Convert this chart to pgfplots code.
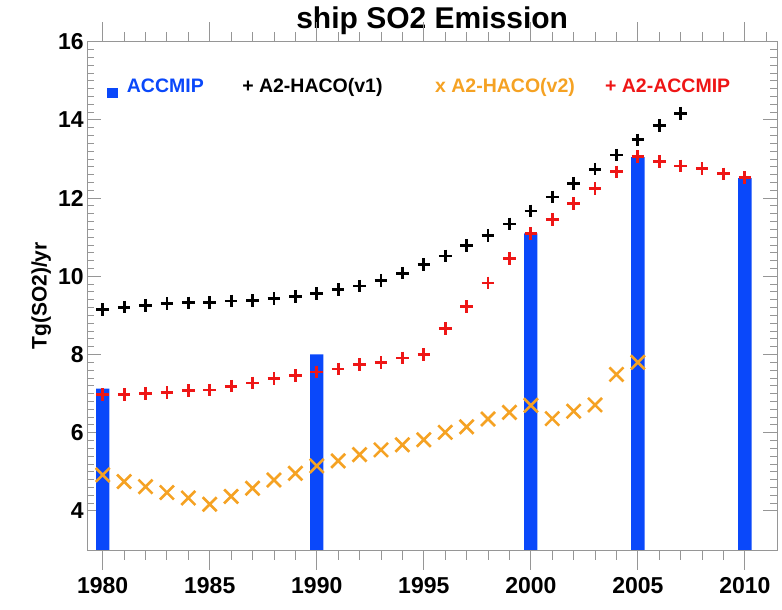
\documentclass[border=0pt]{standalone}
\usepackage{pgfplots}
\pgfplotsset{compat=1.18}
\usepackage{fontspec}
\setmainfont{Liberation Sans}

\definecolor{barblue}{RGB}{10,72,250}
\definecolor{accred}{RGB}{238,22,22}
\definecolor{v2orange}{RGB}{245,162,35}
\definecolor{framegray}{RGB}{150,150,150}

% ACCMIP ship emissions (bars)
\pgfplotstableread{
year val
1980 7.13
1990 8.00
2000 11.10
2005 13.05
2010 12.51
}\accmip

% A2-HACO(v1)
\pgfplotstableread{
year val
1980 9.15
1981 9.21
1982 9.26
1983 9.30
1984 9.32
1985 9.33
1986 9.37
1987 9.38
1988 9.43
1989 9.49
1990 9.56
1991 9.66
1992 9.75
1993 9.90
1994 10.08
1995 10.30
1996 10.52
1997 10.78
1998 11.04
1999 11.34
2000 11.67
2001 12.03
2002 12.38
2003 12.74
2004 13.10
2005 13.49
2006 13.85
2007 14.17
}\hacoone

% A2-HACO(v2)
\pgfplotstableread{
year val
1980 4.92
1981 4.75
1982 4.62
1983 4.47
1984 4.33
1985 4.17
1986 4.37
1987 4.58
1988 4.79
1989 4.96
1990 5.15
1991 5.28
1992 5.44
1993 5.56
1994 5.69
1995 5.82
1996 6.01
1997 6.15
1998 6.35
1999 6.52
2000 6.70
2001 6.36
2002 6.55
2003 6.71
2004 7.49
2005 7.80
}\hacotwo

% A2-ACCMIP
\pgfplotstableread{
year val
1980 6.97
1981 6.97
1982 7.01
1983 7.03
1984 7.08
1985 7.09
1986 7.19
1987 7.27
1988 7.38
1989 7.46
1990 7.55
1991 7.63
1992 7.74
1993 7.80
1994 7.91
1995 8.00
1996 8.66
1997 9.23
1998 9.83
1999 10.45
2000 11.09
2001 11.46
2002 11.86
2003 12.25
2004 12.67
2005 13.06
2006 12.93
2007 12.82
2008 12.76
2009 12.62
2010 12.53
}\atwoaccmip

\pgfplotsset{
  shipframe/.style={
    scale only axis, width=689.7pt, height=508.3pt,
    xmin=1979.28, xmax=2011.5, ymin=3, ymax=16,
    axis line style={framegray, line width=0.9pt},
    every tick/.style={framegray, line width=0.9pt},
    /pgf/number format/assume math mode=true,
    /pgf/number format/1000 sep={},
    clip mode=individual,
  },
}

\begin{document}
\begin{tikzpicture}
\useasboundingbox (-87.3pt,-60pt) rectangle (694.7pt,550pt);

% year ticks below the frame, pointing outwards
\begin{axis}[shipframe,
  xtick={1980,1985,...,2010},
  minor x tick num=4,
  major tick length=20pt, minor tick length=10pt,
  axis x line*=bottom, axis y line=none, tick align=outside,
  xticklabel style={font=\fontsize{23}{23}\selectfont\bfseries, yshift=-4pt},
]
\end{axis}

% data, y ticks (pointing inwards)
\begin{axis}[shipframe,
  xtick=\empty,
  ytick={4,6,...,16},
  minor y tick num=9,
  ytick pos=both,
  tick align=inside,
  major tick length=14pt, minor tick length=7pt,
  yticklabel style={font=\fontsize{23}{23}\selectfont\bfseries},
]
\addplot[ybar, bar width=13.3pt, fill=barblue, draw=none] table[x=year, y=val] {\accmip};
\addplot[only marks, mark=+, mark size=6.3pt, line width=2.8pt, black] table[x=year, y=val] {\hacoone};
\addplot[only marks, mark=+, mark size=6.3pt, line width=2.8pt, accred] table[x=year, y=val] {\atwoaccmip};
\addplot[only marks, mark=x, mark size=9.9pt, line width=2.6pt, v2orange] table[x=year, y=val] {\hacotwo};

% key
\begin{scope}[every node/.style={font=\fontsize{19.5}{19.5}\selectfont\bfseries, inner sep=0pt, anchor=base west}]
\node[barblue] at (axis cs:1980.2,14.69) {\rule[-5pt]{11pt}{10pt}\hspace{8.7pt}ACCMIP};
\node[black] at (axis cs:1986.51,14.69) {+ A2-HACO(v1)};
\node[v2orange] at (axis cs:1995.52,14.69) {x A2-HACO(v2)};
\node[accred] at (axis cs:2003.46,14.69) {+ A2-ACCMIP};
\end{scope}

% title and axis label
\node[anchor=base, font=\fontsize{30}{30}\selectfont\bfseries] at ([yshift=12.7pt]rel axis cs:0.5,1) {ship SO2 Emission};
\node[rotate=90, anchor=center, font=\fontsize{21}{21}\selectfont\bfseries] at ([xshift=-46pt]rel axis cs:0,0.5) {Tg(SO2)/yr};
\end{axis}

% year ticks along the top edge, pointing outwards
% (frame is 689.7pt wide for 1979.28--2011.5, i.e. 21.406pt per year)
\foreach \yr in {1980,...,2011} {
  \pgfmathsetmacro{\ticklen}{ifthenelse(mod(\yr,5)==0,20,10)}
  \draw[framegray, line width=0.9pt] ({(\yr-1979.28)*21.406pt},508.3pt) -- ++(0pt,\ticklen pt);
}
\end{tikzpicture}
\end{document}
